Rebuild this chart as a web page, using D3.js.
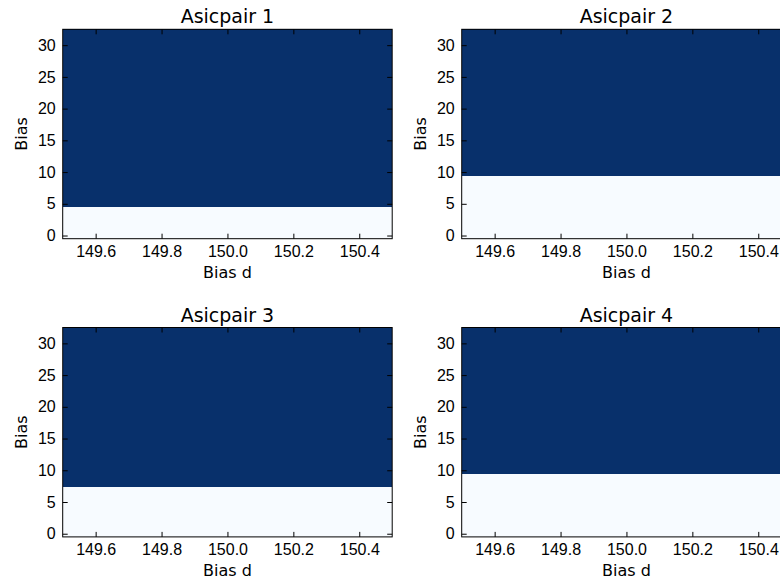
<!DOCTYPE html>
<html>
<head>
<meta charset="utf-8">
<script src="https://cdn.jsdelivr.net/npm/d3@7"></script>
<style>
  body { margin: 0; background: #fff; }
  svg { display: block; font-family: 'DejaVu Sans', sans-serif; }
  .tick text { font-size: 16px; fill: #000; }
  .tick line { stroke: #000; stroke-width: 1; }
  .cells rect { shape-rendering: crispEdges; }
</style>
</head>
<body>
<div id="chart"></div>
<script>
// data
const titles = ['Asicpair 1', 'Asicpair 2', 'Asicpair 3', 'Asicpair 4'];
const biasD = [150];
const biasLevels = [0, 1, 2, 3, 4, 5, 6, 7, 8, 9, 10, 11, 12, 13, 14, 15, 16,
	17, 18, 19, 20, 21, 22, 23, 24, 25, 26, 27, 28, 29, 30, 31, 32];
// cell value for each bias level, one array per asic pair
const pair1 = [0, 0, 0, 0, 0, 1, 1, 1, 1, 1, 1, 1, 1, 1, 1, 1, 1, 1, 1, 1, 1, 1, 1, 1, 1, 1, 1, 1, 1, 1, 1, 1, 1];
const pair2 = [0, 0, 0, 0, 0, 0, 0, 0, 0, 0, 1, 1, 1, 1, 1, 1, 1, 1, 1, 1, 1, 1, 1, 1, 1, 1, 1, 1, 1, 1, 1, 1, 1];
const pair3 = [0, 0, 0, 0, 0, 0, 0, 0, 1, 1, 1, 1, 1, 1, 1, 1, 1, 1, 1, 1, 1, 1, 1, 1, 1, 1, 1, 1, 1, 1, 1, 1, 1];
const pair4 = [0, 0, 0, 0, 0, 0, 0, 0, 0, 0, 1, 1, 1, 1, 1, 1, 1, 1, 1, 1, 1, 1, 1, 1, 1, 1, 1, 1, 1, 1, 1, 1, 1];
const xTicks = [149.6, 149.8, 150.0, 150.2, 150.4];
const yTicks = [0, 5, 10, 15, 20, 25, 30];

const width = 780;
const height = 578;
const panelW = 329.5;
const panelH = 209.4;
const tickLen = 5;

// top-left corners of the four axes
const panels = [
	{ left: 62.7, top: 29.3, values: pair1 },
	{ left: 461.7, top: 29.3, values: pair2 },
	{ left: 62.7, top: 327.5, values: pair3 },
	{ left: 461.7, top: 327.5, values: pair4 }
];

const color = d3.scaleLinear().domain([0, 1]).range(['#f7fbff', '#08306b']);

const svg = d3.select('#chart')
	.append('svg')
	.attr('width', width)
	.attr('height', height);

const drawPanel = (p, i) => {
	const x = d3.scaleLinear()
		.domain([149.5, 150.5])
		.range([0, panelW]);
	const y = d3.scaleLinear()
		.domain([-0.5, 32.5])
		.range([panelH, 0]);

	const g = svg.append('g')
		.attr('transform', `translate(${p.left},${p.top})`);

	// heatmap cells
	const cells = [];
	biasD.forEach(d => {
		biasLevels.forEach((b, j) => cells.push({ d, b, v: p.values[j] }));
	});

	g.append('g')
		.attr('class', 'cells')
		.selectAll('rect')
		.data(cells)
		.join('rect')
		.attr('x', c => x(c.d - 0.5))
		.attr('width', c => x(c.d + 0.5) - x(c.d - 0.5))
		.attr('y', c => y(c.b + 0.5))
		.attr('height', c => y(c.b - 0.5) - y(c.b + 0.5) + 0.5)
		.attr('fill', c => color(c.v));

	// axes, ticks pointing inward on all sides
	g.append('g')
		.attr('transform', `translate(0,${panelH})`)
		.call(d3.axisBottom(x).tickValues(xTicks).tickFormat(d3.format('.1f'))
			.tickSize(-tickLen).tickPadding(7))
		.call(a => a.select('.domain').remove());

	g.append('g')
		.call(d3.axisTop(x).tickValues(xTicks).tickFormat('').tickSize(-tickLen))
		.call(a => a.select('.domain').remove());

	g.append('g')
		.call(d3.axisLeft(y).tickValues(yTicks).tickSize(-tickLen).tickPadding(7))
		.call(a => a.select('.domain').remove());

	g.append('g')
		.attr('transform', `translate(${panelW},0)`)
		.call(d3.axisRight(y).tickValues(yTicks).tickFormat('').tickSize(-tickLen))
		.call(a => a.select('.domain').remove());

	// frame
	g.append('rect')
		.attr('width', panelW)
		.attr('height', panelH)
		.attr('fill', 'none')
		.attr('stroke', '#000')
		.attr('stroke-width', 1);

	// title
	g.append('text')
		.attr('x', panelW / 2)
		.attr('y', -6)
		.attr('text-anchor', 'middle')
		.style('font-size', '19px')
		.text(titles[i]);

	// axis labels
	g.append('text')
		.attr('x', panelW / 2)
		.attr('y', panelH + 39.5)
		.attr('text-anchor', 'middle')
		.style('font-size', '16px')
		.text('Bias d');

	g.append('text')
		.attr('transform', `translate(-36,${panelH / 2}) rotate(-90)`)
		.attr('text-anchor', 'middle')
		.style('font-size', '16px')
		.text('Bias');
};

panels.forEach(drawPanel);
</script>
</body>
</html>
